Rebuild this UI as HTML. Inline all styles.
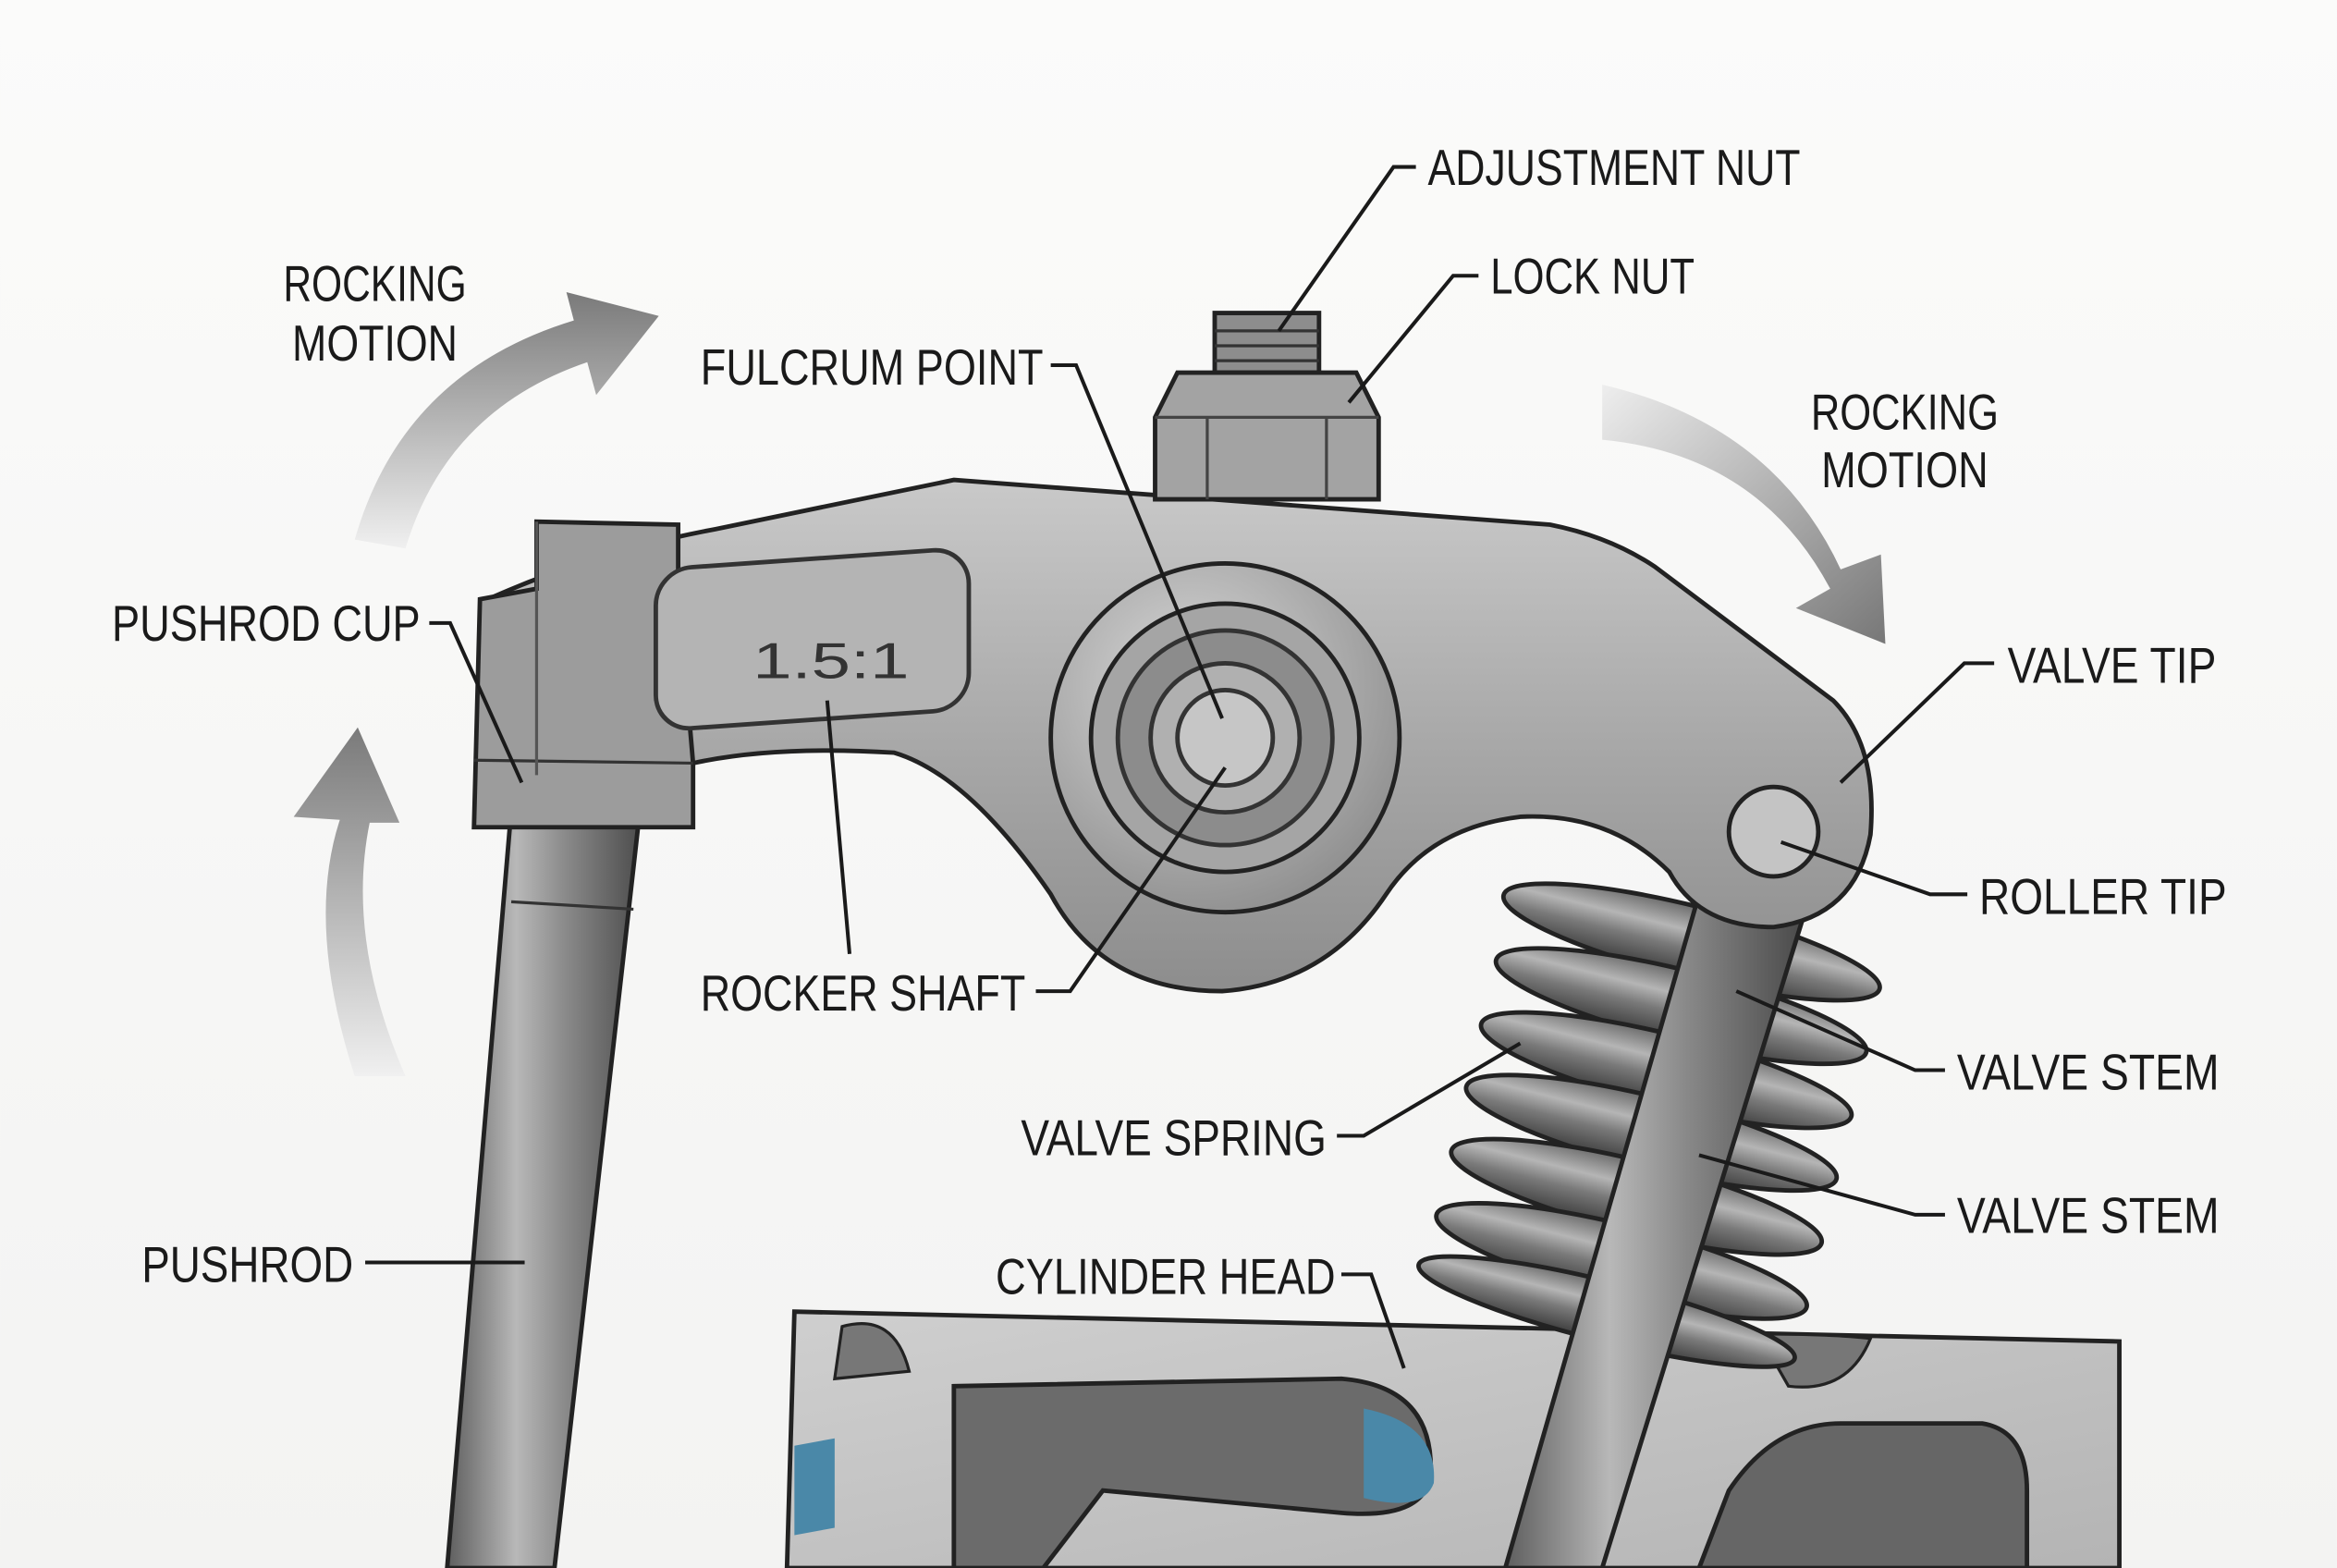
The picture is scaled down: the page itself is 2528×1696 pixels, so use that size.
<!DOCTYPE html>
<html><head><meta charset="utf-8"><style>
html,body{margin:0;padding:0;background:#f8f8f7;}
svg{display:block}
text{font-family:"Liberation Sans Narrow","Liberation Sans",sans-serif;fill:#1a1a1a;font-size:34px;}
</style></head><body>
<svg width="2528" height="1696" viewBox="0 0 1568 1052" xmlns="http://www.w3.org/2000/svg">
<defs>
<linearGradient id="bg" x1="0" y1="0" x2="0" y2="1"><stop offset="0" stop-color="#fbfbfa"/><stop offset="1" stop-color="#f3f3f2"/></linearGradient>
<linearGradient id="rod" x1="0" y1="0" x2="1" y2="0"><stop offset="0" stop-color="#5e5e5e"/><stop offset="0.35" stop-color="#b8b8b8"/><stop offset="0.6" stop-color="#8a8a8a"/><stop offset="1" stop-color="#4a4a4a"/></linearGradient>
<linearGradient id="arm" x1="0" y1="0" x2="0" y2="1"><stop offset="0" stop-color="#c9c9c9"/><stop offset="0.5" stop-color="#a9a9a9"/><stop offset="1" stop-color="#8d8d8d"/></linearGradient>
<radialGradient id="disc" cx="0.4" cy="0.35" r="0.7"><stop offset="0" stop-color="#d8d8d8"/><stop offset="1" stop-color="#8e8e8e"/></radialGradient>
<linearGradient id="arr" x1="0" y1="1" x2="0" y2="0"><stop offset="0" stop-color="#f0f0f0"/><stop offset="1" stop-color="#7a7a7a"/></linearGradient>
<linearGradient id="arr2" x1="0" y1="0" x2="1" y2="1"><stop offset="0" stop-color="#eeeeee"/><stop offset="1" stop-color="#777"/></linearGradient>
<linearGradient id="coil" x1="0" y1="0" x2="0" y2="1"><stop offset="0" stop-color="#6a6a6a"/><stop offset="0.35" stop-color="#b5b5b5"/><stop offset="0.6" stop-color="#7a7a7a"/><stop offset="1" stop-color="#3d3d3d"/></linearGradient>
<linearGradient id="head" x1="0" y1="0" x2="1" y2="1"><stop offset="0" stop-color="#cfcfcf"/><stop offset="1" stop-color="#b4b4b4"/></linearGradient>
</defs>
<rect width="1568" height="1052" fill="url(#bg)"/>

<path d="M238,362 Q270,250 385,215 L380,196 L442,212 L400,265 L394,243 Q300,275 272,368 Z" fill="url(#arr)"/>
<path d="M238,722 Q205,620 228,550 L197,548 L240,488 L268,552 L248,552 Q232,630 272,722 Z" fill="url(#arr)"/>
<path d="M1075,258 Q1190,285 1235,382 L1262,372 L1265,432 L1205,408 L1228,395 Q1180,305 1075,295 Z" fill="url(#arr2)"/>

<path d="M533,880 L1422,900 L1422,1052 L528,1052 Z" fill="url(#head)" stroke="#222" stroke-width="3"/>
<path d="M565,890 Q600,880 610,920 L560,925 Z" fill="#777" stroke="#222" stroke-width="2"/>
<path d="M640,930 L900,925 Q960,930 960,985 Q960,1020 900,1015 L740,1000 L700,1052 L640,1052 Z" fill="#6b6b6b" stroke="#222" stroke-width="3"/>
<path d="M915,945 Q965,955 962,995 Q955,1015 915,1005 Z" fill="#4a88a8"/>
<path d="M533,970 L560,965 L560,1025 L533,1030 Z" fill="#4a88a8"/>
<path d="M1140,1052 L1160,1000 Q1190,955 1235,955 L1330,955 Q1360,960 1360,1000 L1360,1052 Z" fill="#666" stroke="#222" stroke-width="3"/>
<path d="M1180,895 Q1230,895 1255,898 Q1240,935 1200,930 Z" fill="#777" stroke="#222" stroke-width="2"/>

<g stroke="#222" stroke-width="3" fill="url(#coil)">
<ellipse cx="1135" cy="632" rx="130" ry="24" transform="rotate(14 1135 632)"/>
<ellipse cx="1128" cy="675" rx="128" ry="24" transform="rotate(14 1128 675)"/>
<ellipse cx="1118" cy="718" rx="128" ry="24" transform="rotate(14 1118 718)"/>
<ellipse cx="1108" cy="760" rx="128" ry="24" transform="rotate(14 1108 760)"/>
<ellipse cx="1098" cy="803" rx="128" ry="24" transform="rotate(14 1098 803)"/>
<ellipse cx="1088" cy="846" rx="128" ry="24" transform="rotate(14 1088 846)"/>
<ellipse cx="1078" cy="880" rx="130" ry="20" transform="rotate(14 1078 880)"/>
</g>

<path d="M1140,600 L1210,615 L1075,1052 L1010,1052 Z" fill="url(#rod)" stroke="#222" stroke-width="3"/>

<path d="M345,520 L432,520 L372,1052 L300,1052 Z" fill="url(#rod)" stroke="#222" stroke-width="3"/>
<line x1="343" y1="605" x2="425" y2="610" stroke="#333" stroke-width="2"/>

<path d="M332,400 Q400,370 480,355 L640,322 L1040,352 Q1080,360 1110,380 L1230,470 Q1260,500 1255,560 Q1245,615 1190,622 Q1140,622 1120,585 Q1080,545 1020,548 Q960,555 930,600 Q890,660 820,665 Q740,665 705,600 Q650,520 600,505 Q520,500 465,512 L455,520 L335,520 Z" fill="url(#arm)" stroke="#222" stroke-width="3"/>
<path d="M322,402 L360,395 L360,350 L455,352 L455,395 L465,512 L465,555 L318,555 Z" fill="#9c9c9c" stroke="#222" stroke-width="3"/>
<path d="M318,510 L465,512" stroke="#333" stroke-width="2"/>
<path d="M360,350 L360,520" stroke="#555" stroke-width="2"/>
<rect x="440" y="378" width="210" height="108" rx="24" fill="#b4b4b4" stroke="#333" stroke-width="3" transform="skewY(-4) translate(0,35)"/>
<text x="505" y="455" font-size="40" style="fill:#333" textLength="105" lengthAdjust="spacingAndGlyphs">1.5:1</text>
<circle cx="822" cy="495" r="117" fill="url(#disc)" stroke="#222" stroke-width="3"/>
<circle cx="822" cy="495" r="90" fill="#a5a5a5" stroke="#222" stroke-width="3"/>
<circle cx="822" cy="495" r="72" fill="#8c8c8c" stroke="#333" stroke-width="3"/>
<circle cx="822" cy="495" r="50" fill="#b0b0b0" stroke="#333" stroke-width="3"/>
<circle cx="822" cy="495" r="32" fill="#c6c6c6" stroke="#333" stroke-width="3"/>
<circle cx="1190" cy="558" r="30" fill="#c4c4c4" stroke="#222" stroke-width="3"/>
<rect x="815" y="210" width="70" height="40" fill="#8d8d8d" stroke="#222" stroke-width="3"/>
<path d="M815,222 H885 M815,232 H885 M815,242 H885" stroke="#333" stroke-width="2"/>
<path d="M775,280 L790,250 L910,250 L925,280 L925,335 L775,335 Z" fill="#a3a3a3" stroke="#222" stroke-width="3"/>
<path d="M810,280 V335 M890,280 V335 M775,280 H925" stroke="#444" stroke-width="2" fill="none"/>

<g stroke="#1a1a1a" stroke-width="2.5" fill="none">
<polyline points="950,112 935,112 858,222"/>
<polyline points="992,185 975,185 905,270"/>
<polyline points="705,245 722,245 820,482"/>
<polyline points="288,418 302,418 350,525"/>
<polyline points="1338,445 1318,445 1235,525"/>
<polyline points="1320,600 1295,600 1195,565"/>
<polyline points="695,665 718,665 822,515"/>
<polyline points="555,470 570,640"/>
<polyline points="1305,718 1285,718 1165,665"/>
<polyline points="897,762 915,762 1020,700"/>
<polyline points="1305,815 1285,815 1140,775"/>
<polyline points="245,847 352,847"/>
<polyline points="900,855 920,855 942,918"/>
</g>

<text x="958" y="124" textLength="250" lengthAdjust="spacingAndGlyphs">ADJUSTMENT NUT</text>
<text x="1000" y="197" textLength="137" lengthAdjust="spacingAndGlyphs">LOCK NUT</text>
<text x="190" y="202" textLength="123" lengthAdjust="spacingAndGlyphs">ROCKING</text>
<text x="196" y="242" textLength="111" lengthAdjust="spacingAndGlyphs">MOTION</text>
<text x="470" y="258" textLength="230" lengthAdjust="spacingAndGlyphs">FULCRUM POINT</text>
<text x="1215" y="288" textLength="126" lengthAdjust="spacingAndGlyphs">ROCKING</text>
<text x="1222" y="327" textLength="112" lengthAdjust="spacingAndGlyphs">MOTION</text>
<text x="75" y="430" textLength="207" lengthAdjust="spacingAndGlyphs">PUSHROD CUP</text>
<text x="1347" y="458" textLength="140" lengthAdjust="spacingAndGlyphs">VALVE TIP</text>
<text x="1328" y="613" textLength="166" lengthAdjust="spacingAndGlyphs">ROLLER TIP</text>
<text x="470" y="678" textLength="218" lengthAdjust="spacingAndGlyphs">ROCKER SHAFT</text>
<text x="1313" y="731" textLength="176" lengthAdjust="spacingAndGlyphs">VALVE STEM</text>
<text x="685" y="775" textLength="205" lengthAdjust="spacingAndGlyphs">VALVE SPRING</text>
<text x="1313" y="827" textLength="176" lengthAdjust="spacingAndGlyphs">VALVE STEM</text>
<text x="95" y="860" textLength="142" lengthAdjust="spacingAndGlyphs">PUSHROD</text>
<text x="668" y="868" textLength="228" lengthAdjust="spacingAndGlyphs">CYLINDER HEAD</text>
</svg>
</body></html>
